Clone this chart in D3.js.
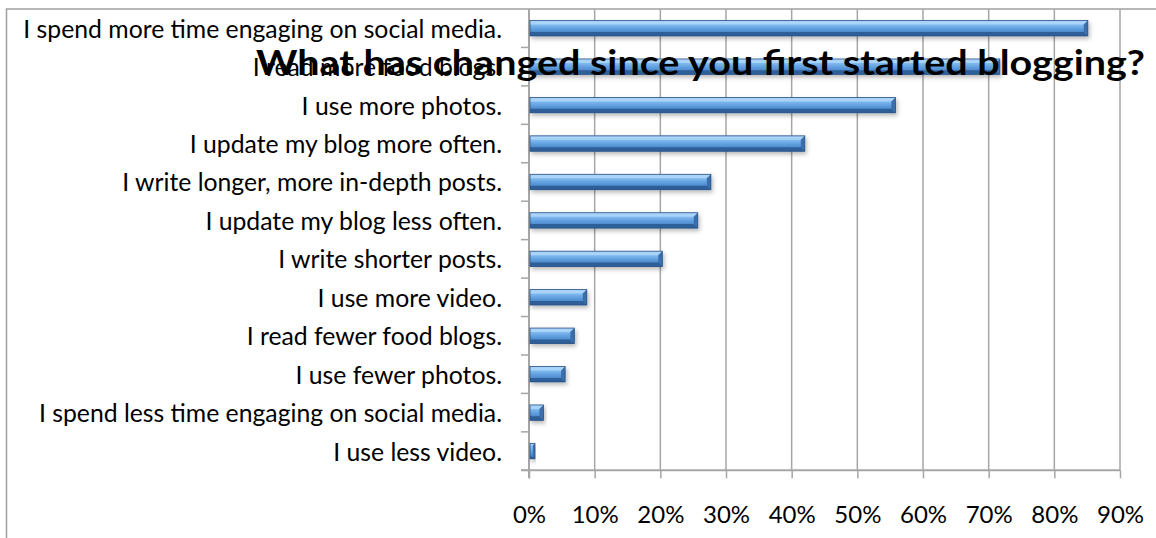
<!DOCTYPE html>
<html>
<head>
<meta charset="utf-8">
<script src="https://cdn.jsdelivr.net/npm/d3@7"></script>
<style>
  html, body { margin: 0; padding: 0; background: #fff; }
  svg { display: block; }
</style>
</head>
<body>
<svg id="chart" width="1156" height="538"></svg>
<script>
const title = "What has changed since you first started blogging?";
const categories = [
  "I spend more time engaging on social media.",
  "I read more food blogs.",
  "I use more photos.",
  "I update my blog more often.",
  "I write longer, more in-depth posts.",
  "I update my blog less often.",
  "I write shorter posts.",
  "I use more video.",
  "I read fewer food blogs.",
  "I use fewer photos.",
  "I spend less time engaging on social media.",
  "I use less video."
];
const values = [85.1, 71.7, 55.8, 42.0, 27.7, 25.7, 20.3, 8.8, 6.9, 5.5, 2.2, 0.9];
const tickValues = [0, 10, 20, 30, 40, 50, 60, 70, 80, 90];
const tickLabels = ["0%", "10%", "20%", "30%", "40%", "50%", "60%", "70%", "80%", "90%"];

const svg = d3.select("#chart");
const plot = { left: 529, right: 1120, top: 9, bottom: 470.3 };
const gridColor = "#a6a6a6";

const x = d3.scaleLinear().domain([0, 90]).range([plot.left, plot.right]);
const y = d3.scaleBand().domain(categories).range([plot.top, plot.bottom]).padding(0);
const step = y.step();
const barH = step * 0.40;

// defs
const defs = svg.append("defs");
const g1 = defs.append("linearGradient").attr("id", "barGrad").attr("x1", 0).attr("y1", 0).attr("x2", 0).attr("y2", 1);
[[0, "#8fc3f3"], [0.3, "#7db7ee"], [0.55, "#5e9ddd"], [0.8, "#4a86c8"], [1, "#3b72b2"]]
  .forEach(([o, c]) => g1.append("stop").attr("offset", o).attr("stop-color", c));
const f = defs.append("filter").attr("id", "shadow").attr("x", "-10%").attr("y", "-50%").attr("width", "130%").attr("height", "250%");
f.append("feDropShadow").attr("dx", 1.5).attr("dy", 2.5).attr("stdDeviation", 2).attr("flood-color", "#000").attr("flood-opacity", 0.28);

// outer border
svg.append("rect").attr("x", 6.5).attr("y", 9).attr("width", 1200).attr("height", 600)
  .attr("fill", "#fff").attr("stroke", "#a0a0a0").attr("stroke-width", 1.5);

// vertical gridlines
svg.append("g").selectAll("line").data(tickValues.slice(1)).join("line")
  .attr("x1", d => x(d)).attr("x2", d => x(d))
  .attr("y1", plot.top).attr("y2", plot.bottom)
  .attr("stroke", gridColor).attr("stroke-width", 1.5);

// bottom axis
const xAxis = d3.axisBottom(x).tickValues(tickValues).tickSize(8).tickPadding(0).tickFormat((d, i) => tickLabels[i]);
const gx = svg.append("g").attr("transform", `translate(0,${plot.bottom})`).call(xAxis);
gx.select(".domain").attr("stroke", gridColor).attr("stroke-width", 2).attr("d", `M${plot.left - 8},0H${plot.right}`);
gx.selectAll(".tick line").attr("stroke", gridColor).attr("stroke-width", 1.5);
gx.selectAll(".tick text").attr("fill", "#000").attr("font-family", "Lato, 'Open Sans', sans-serif")
  .attr("font-size", 24).attr("dy", null).attr("y", 52.4);

// left axis
const boundaries = d3.range(categories.length + 1).map(i => plot.top + i * step);
svg.append("line").attr("x1", plot.left).attr("x2", plot.left).attr("y1", plot.top).attr("y2", plot.bottom + 8)
  .attr("stroke", gridColor).attr("stroke-width", 2);
svg.append("g").selectAll("line").data(boundaries.slice(1)).join("line")
  .attr("x1", plot.left - 8).attr("x2", plot.left).attr("y1", d => d).attr("y2", d => d)
  .attr("stroke", gridColor).attr("stroke-width", 1.5);

// category labels
const labels = svg.append("g").selectAll("text").data(categories).join("text")
  .attr("x", 502).attr("y", d => y(d) + step / 2 + 9.5)
  .attr("text-anchor", "end").attr("fill", "#000")
  .attr("font-family", "Lato, 'Open Sans', sans-serif").attr("font-size", 20)
  .text(d => d);
// fit font size so the longest label spans the same width as in the reference
let maxW = 0;
labels.each(function () { maxW = Math.max(maxW, this.getComputedTextLength()); });
const fs = 20 * 479 / maxW;
labels.attr("font-size", fs);

// bars
const bars = svg.append("g").selectAll("g").data(categories).join("g").attr("filter", "url(#shadow)");
bars.each(function (c, i) {
  const g = d3.select(this);
  const x0 = x(0) + 1, x1 = x(values[i]);
  const y0 = y(c) + (step - barH) / 2, y1 = y0 + barH;
  const w = x1 - x0;
  const b = Math.min(4, w / 2.5);
  g.append("rect").attr("x", x0).attr("y", y0).attr("width", w).attr("height", barH).attr("fill", "url(#barGrad)");
  // top bevel
  g.append("path").attr("d", `M${x0},${y0}H${x1}L${x1 - b},${y0 + b}H${x0}Z`).attr("fill", "#a9d3f8");
  // bottom bevel
  g.append("path").attr("d", `M${x0},${y1 - b}H${x1 - b}L${x1},${y1}H${x0}Z`).attr("fill", "#2f5f98");
  // right bevel
  g.append("path").attr("d", `M${x1 - b},${y0 + b}L${x1},${y0}V${y1}L${x1 - b},${y1 - b}Z`).attr("fill", "#3a6eab");
  // outline
  g.append("rect").attr("x", x0).attr("y", y0).attr("width", w).attr("height", barH)
    .attr("fill", "none").attr("stroke", "#2a5286").attr("stroke-width", 0.8);
});

// title (drawn on top, as in the reference)
svg.append("text").attr("x", 256).attr("y", 75)
  .attr("font-family", "Lato, 'Open Sans', sans-serif").attr("font-weight", "bold").attr("font-size", 35)
  .attr("fill", "#000").attr("textLength", 889).attr("lengthAdjust", "spacingAndGlyphs")
  .text(title);
</script>
</body>
</html>
